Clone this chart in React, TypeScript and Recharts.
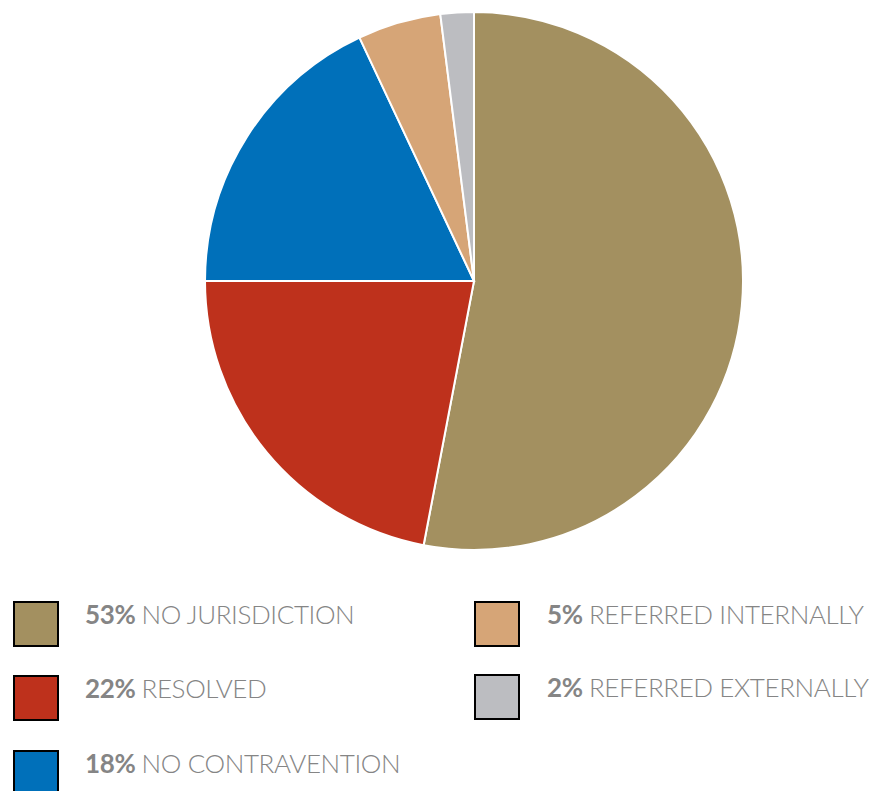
import React from 'react'
import { PieChart, Pie, Cell, Legend } from 'recharts'

const categories = ['NO JURISDICTION', 'RESOLVED', 'NO CONTRAVENTION', 'REFERRED INTERNALLY', 'REFERRED EXTERNALLY']
const shares = [53, 22, 18, 5, 2]
const colors = ['#A39060', '#BE311C', '#0070BA', '#D6A577', '#BCBDC1']

const data = categories.map((name, i) => ({ name, value: shares[i] }))

// legend slots: left column holds first 3, right column the rest
const legendPos = [
  { x: 13, y: 601 },
  { x: 13, y: 675 },
  { x: 13, y: 750 },
  { x: 474, y: 601 },
  { x: 474, y: 674 },
]

const LegendBox = () => (
  <div style={{ position: 'relative', width: 875, height: 791 }}>
    {data.map((d, i) => (
      <div key={d.name} style={{ position: 'absolute', left: legendPos[i].x, top: legendPos[i].y }}>
        <div
          style={{
            position: 'absolute',
            left: 0,
            top: 0,
            width: 42,
            height: 42,
            background: colors[i],
            border: '2px solid #000',
          }}
        />
        <div
          style={{
            position: 'absolute',
            left: i < 3 ? 72 : 73,
            top: -4,
            whiteSpace: 'nowrap',
            fontFamily: 'Lato, sans-serif',
            fontSize: 26,
            letterSpacing: -0.4,
            color: '#858585',
            lineHeight: '34px',
          }}
        >
          <span style={{ fontWeight: 700 }}>{d.value}%</span>{' '}
          <span style={{ fontWeight: 300 }}>{d.name}</span>
        </div>
      </div>
    ))}
  </div>
)

export default function App() {
  return (
    <div style={{ position: 'absolute', left: 0, top: 0, background: '#fff' }}>
      <PieChart width={875} height={791} margin={{ top: 0, right: 0, bottom: 0, left: 0 }}>
        <Pie
          data={data}
          dataKey="value"
          nameKey="name"
          cx={474}
          cy={281}
          outerRadius={269}
          startAngle={90}
          endAngle={-270}
          stroke="#fff"
          strokeWidth={2}
          isAnimationActive={false}
        >
          {data.map((d, i) => (
            <Cell key={d.name} fill={colors[i]} />
          ))}
        </Pie>
        <Legend
          content={() => <LegendBox />}
          wrapperStyle={{ position: 'absolute', left: 0, top: 0, width: 875, height: 791, pointerEvents: 'none' }}
        />
      </PieChart>
    </div>
  )
}
